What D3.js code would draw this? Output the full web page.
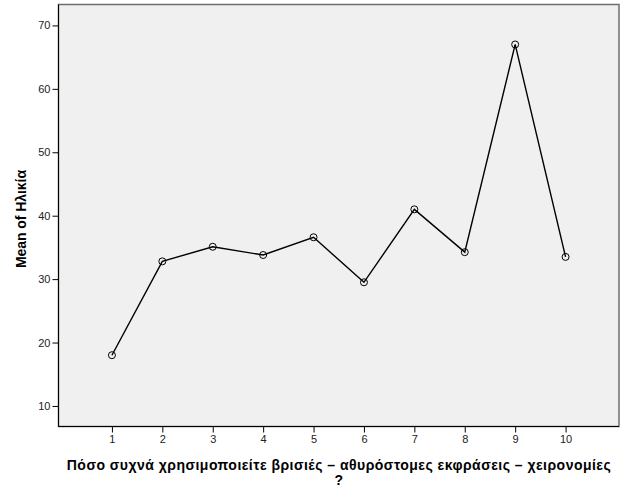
<!DOCTYPE html>
<meta charset="utf-8">
<style>
  body { margin: 0; background: #fff; }
  svg { display: block; font-family: Arial, "Liberation Sans", sans-serif; }
  .tick text { font-size: 11px; fill: #222; }
  .title { font-size: 14px; font-weight: bold; fill: #000; }
</style>
<body>
<script src="https://cdnjs.cloudflare.com/ajax/libs/d3/7.8.5/d3.min.js"></script>
<script>
  // data
  var categories = [1, 2, 3, 4, 5, 6, 7, 8, 9, 10];
  var meanAge = [18.0, 32.8, 35.1, 33.8, 36.6, 29.5, 41.0, 34.25, 67.0, 33.5];
  var yTicks = [10, 20, 30, 40, 50, 60, 70];
  var xTitle = ["Πόσο συχνά χρησιμοποιείτε βρισιές – αθυρόστομες εκφράσεις – χειρονομίες", "?"];
  var yTitle = "Mean of Ηλικία";

  var W = 626, H = 501;
  var plot = {left: 58.5, top: 4.5, right: 619, bottom: 426.5};

  var svg = d3.select("body").append("svg")
      .attr("width", W)
      .attr("height", H);

  var x = d3.scaleLinear().domain([-0.06, 11.06]).range([plot.left, plot.right]);
  var y = d3.scaleLinear().domain([6.76, 73.3]).range([plot.bottom, plot.top]);

  // plot background + grey frame
  svg.append("rect")
      .attr("x", plot.left).attr("y", plot.top)
      .attr("width", plot.right - plot.left)
      .attr("height", plot.bottom - plot.top)
      .attr("fill", "#f0f0f0")
      .attr("stroke", "#6e6e6e")
      .attr("stroke-width", 1.5);

  // axes
  var gx = svg.append("g")
      .attr("transform", "translate(0," + plot.bottom + ")")
      .call(d3.axisBottom(x).tickValues(categories).tickSize(6).tickSizeOuter(0).tickPadding(3));
  gx.select(".domain").attr("stroke", "#000").attr("d", "M" + plot.left + ",0H" + plot.right);

  var gy = svg.append("g")
      .attr("transform", "translate(" + plot.left + ",0)")
      .call(d3.axisLeft(y).tickValues(yTicks).tickSize(6).tickSizeOuter(0).tickPadding(2));
  gy.select(".domain").attr("stroke", "#000").attr("d", "M0," + plot.top + "V" + plot.bottom);
  svg.selectAll(".tick line").attr("stroke", "#000");

  // line + markers
  var pts = categories.map(function(c, i) { return {c: c, v: meanAge[i]}; });
  var line = d3.line()
      .x(function(d) { return x(d.c); })
      .y(function(d) { return y(d.v); });

  svg.append("path")
      .datum(pts)
      .attr("d", line)
      .attr("fill", "none")
      .attr("stroke", "#000")
      .attr("stroke-width", 1.4);

  svg.selectAll("circle.pt")
      .data(pts)
      .enter().append("circle")
      .attr("class", "pt")
      .attr("cx", function(d) { return x(d.c); })
      .attr("cy", function(d) { return y(d.v); })
      .attr("r", 3.5)
      .attr("fill", "none")
      .attr("stroke", "#000")
      .attr("stroke-width", 1);

  // axis titles
  var cx = (plot.left + plot.right) / 2;
  svg.append("text")
      .attr("class", "title")
      .attr("x", cx).attr("y", 470)
      .attr("text-anchor", "middle")
      .attr("textLength", 544)
      .attr("lengthAdjust", "spacing")
      .text(xTitle[0]);
  svg.append("text")
      .attr("class", "title")
      .attr("x", cx).attr("y", 485)
      .attr("text-anchor", "middle")
      .text(xTitle[1]);

  svg.append("text")
      .attr("class", "title")
      .attr("transform", "translate(26,219) rotate(-90)")
      .attr("text-anchor", "middle")
      .attr("textLength", 98)
      .attr("lengthAdjust", "spacing")
      .text(yTitle);
</script>
